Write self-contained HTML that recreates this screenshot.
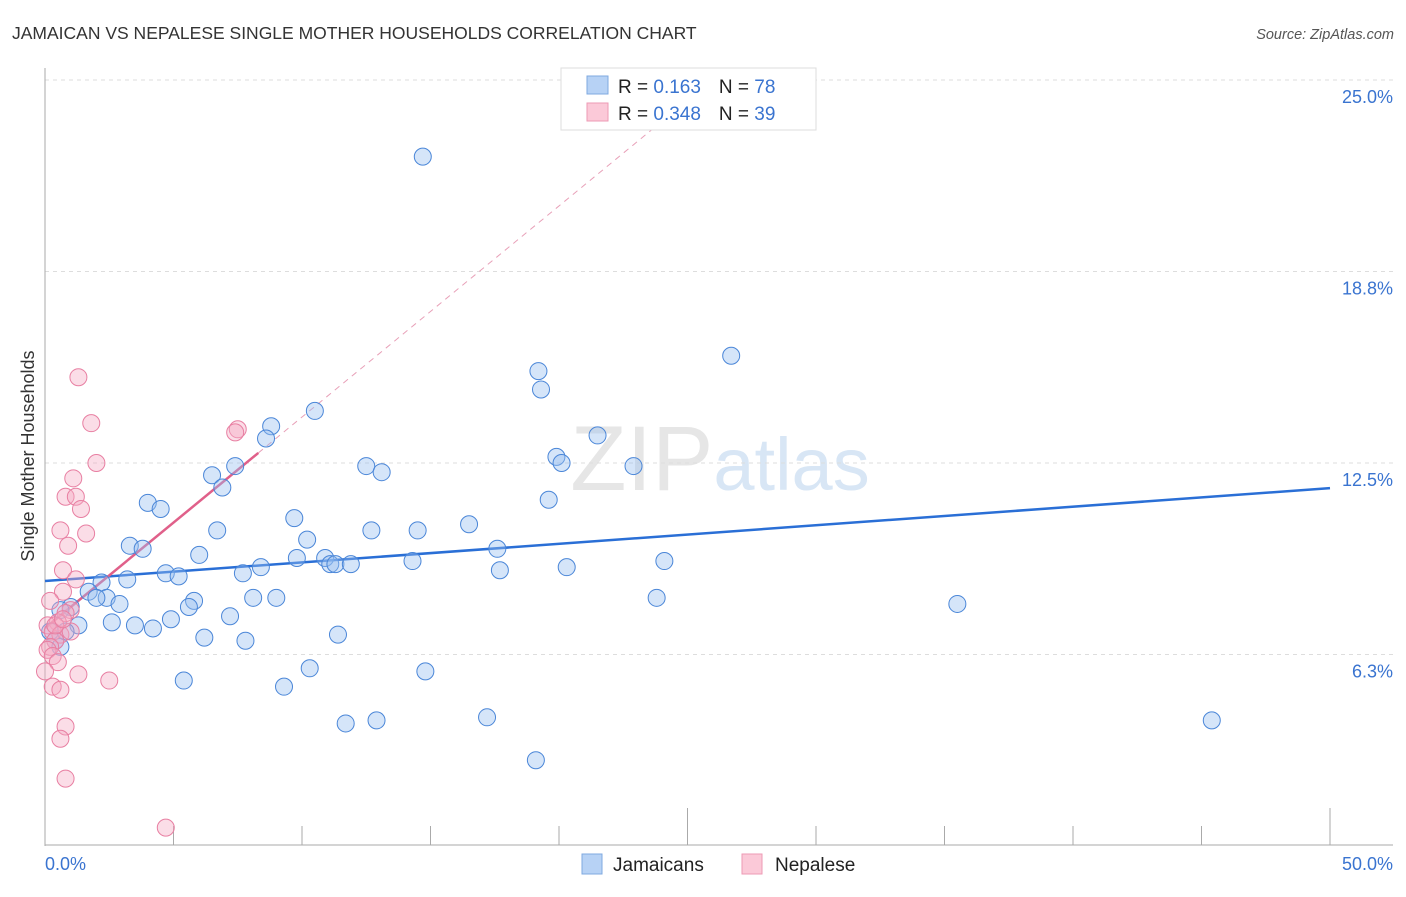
<!DOCTYPE html>
<html><head><meta charset="utf-8"><style>
body{margin:0;background:#fff;font-family:"Liberation Sans",sans-serif;}
svg text{font-family:"Liberation Sans",sans-serif;}
</style></head><body>
<svg id="chart" width="1406" height="892" xmlns="http://www.w3.org/2000/svg">
<text x="12" y="39" font-size="17.5" fill="#333">JAMAICAN VS NEPALESE SINGLE MOTHER HOUSEHOLDS CORRELATION CHART</text>
<text x="1394" y="39" font-size="14.5" fill="#555" font-style="italic" text-anchor="end">Source: ZipAtlas.com</text>
<text x="720" y="490" font-size="92" fill="#e6e6e6" text-anchor="middle" font-family="Liberation Serif"><tspan>ZIP</tspan><tspan fill="#d8e6f5" font-family="Liberation Sans" font-size="74">atlas</tspan></text>
<text transform="translate(34,456) rotate(-90)" font-size="18" fill="#333" text-anchor="middle">Single Mother Households</text>
<g id="grid"></g><g id="axes"></g><g id="trend"></g><g id="pts"></g>
<g>
<rect x="561" y="68" width="255" height="62" fill="#fff" stroke="#ddd"/>
<rect x="587" y="76" width="21" height="18" fill="#b7d2f5" stroke="#7fa9e0"/>
<rect x="587" y="103" width="21" height="18" fill="#fbc9d8" stroke="#ee9ab4"/>
<text x="618" y="93" font-size="19" fill="#222">R = <tspan fill="#3a74d0"> 0.163</tspan><tspan dx="18">N = </tspan><tspan fill="#3a74d0">78</tspan></text>
<text x="618" y="120" font-size="19" fill="#222">R = <tspan fill="#3a74d0">0.348</tspan><tspan dx="18">N = </tspan><tspan fill="#3a74d0">39</tspan></text>
</g>
<g>
<rect x="582" y="854" width="20" height="20" fill="#b7d2f5" stroke="#7fa9e0"/>
<text x="613" y="871" font-size="19" fill="#222">Jamaicans</text>
<rect x="742" y="854" width="20" height="20" fill="#fbc9d8" stroke="#ee9ab4"/>
<text x="775" y="871" font-size="19" fill="#222">Nepalese</text>
</g>
</svg>
<script>
const yTicks=[25,18.75,12.5,6.25];
const yTickLabels=["25.0%","18.8%","12.5%","6.3%"];
const xTickLabels=["0.0%","50.0%"];
const blueX=[14.7,26.7,19.2,19.3,10.5,8.8,8.6,21.5,7.4,12.5,13.1,19.9,20.1,22.9,6.5,6.9,4.0,4.5,19.6,9.7,6.7,12.7,14.5,16.5,10.2,3.3,3.8,17.6,6.0,9.8,10.9,11.1,11.3,11.9,14.3,17.7,20.3,24.1,8.4,4.7,7.7,5.2,3.2,2.2,1.7,2.4,2.0,2.9,5.8,5.6,8.1,9.0,23.8,35.5,1.0,0.6,1.3,2.6,3.5,4.2,4.9,7.2,6.2,7.8,11.4,5.4,9.3,10.3,14.8,11.7,12.9,17.2,19.1,45.4,0.4,0.2,0.6,0.8];
const blueY=[22.5,16.0,15.5,14.9,14.2,13.7,13.3,13.4,12.4,12.4,12.2,12.7,12.5,12.4,12.1,11.7,11.2,11.0,11.3,10.7,10.3,10.3,10.3,10.5,10.0,9.8,9.7,9.7,9.5,9.4,9.4,9.2,9.2,9.2,9.3,9.0,9.1,9.3,9.1,8.9,8.9,8.8,8.7,8.6,8.3,8.1,8.1,7.9,8.0,7.8,8.1,8.1,8.1,7.9,7.8,7.7,7.2,7.3,7.2,7.1,7.4,7.5,6.8,6.7,6.9,5.4,5.2,5.8,5.7,4.0,4.1,4.2,2.8,4.1,6.7,7.0,6.5,7.0];
const pinkX=[1.3,1.8,2.0,1.1,0.8,1.2,1.4,0.6,1.6,0.9,0.7,1.2,7.5,7.4,0.7,0.2,1.0,0.8,0.5,0.1,0.3,0.6,0.4,0.2,0.1,0.3,0.5,0.0,1.3,2.5,0.3,0.6,0.8,0.6,0.8,4.7,1.0,0.4,0.7];
const pinkY=[15.3,13.8,12.5,12.0,11.4,11.4,11.0,10.3,10.2,9.8,9.0,8.7,13.6,13.5,8.3,8.0,7.7,7.6,7.3,7.2,7.0,6.9,6.7,6.5,6.4,6.2,6.0,5.7,5.6,5.4,5.2,5.1,3.9,3.5,2.2,0.6,7.0,7.2,7.4];
const blueTrend=[8.65,11.68];
const pinkTrend=[7.11,0.689];
const NS="http://www.w3.org/2000/svg";
const X=v=>45+v*25.7, Y=v=>846-v*30.64;
function mk(t,a,p){const e=document.createElementNS(NS,t);for(const k in a)e.setAttribute(k,a[k]);p.appendChild(e);return e;}
const grid=document.getElementById('grid'),axes=document.getElementById('axes');
yTicks.forEach((v,i)=>{
 const l=mk('line',{x1:45,x2:1393,y1:Y(v),y2:Y(v),stroke:'#ddd','stroke-dasharray':'4,4'},grid);
 
 
 const t=mk('text',{x:1393,y:Y(v)+23,'font-size':18,fill:'#3a74d0','text-anchor':'end'},axes);
 t.textContent=yTickLabels[i];
 
 
});
mk('line',{x1:45,x2:45,y1:68,y2:846,stroke:'#aaa'},axes);
mk('line',{x1:45,x2:1393,y1:845,y2:845,stroke:'#aaa'},axes);
for(let i=0;i<=10;i++){const v=i*5;const long=(i==0||i==5||i==10);
 mk('line',{x1:X(v),x2:X(v),y1:long?808:826,y2:845,stroke:'#aaa'},axes);}
[[0,'start',45],[50,'end',1393]].forEach((d,i)=>{
 const t=mk('text',{x:d[2],y:870,'font-size':18,fill:'#3a74d0','text-anchor':d[1]},axes);
 t.textContent=xTickLabels[i];
 
 
});
const tr=document.getElementById('trend');
const bl=mk('line',{x1:X(0),y1:Y(blueTrend[0]),x2:X(50),y2:Y(blueTrend[1]),stroke:'#2a6fd6','stroke-width':2.5},tr);


const pe=(25-pinkTrend[0])/pinkTrend[1];
const pd=mk('line',{x1:X(8.3),y1:Y(pinkTrend[0]+pinkTrend[1]*8.3),x2:X(pe),y2:Y(25),stroke:'#e8a0b8','stroke-width':1,'stroke-dasharray':'6,5'},tr);


const pl=mk('line',{x1:X(0),y1:Y(pinkTrend[0]),x2:X(8.3),y2:Y(pinkTrend[0]+pinkTrend[1]*8.3),stroke:'#e0608a','stroke-width':2.5},tr);


const pts=document.getElementById('pts');
blueX.forEach((x,i)=>{const c=mk('circle',{cx:X(x),cy:Y(blueY[i]),r:8.5,fill:'rgba(150,190,240,0.4)',stroke:'#4a86d8','stroke-width':1},pts);
 
 });
pinkX.forEach((x,i)=>{const c=mk('circle',{cx:X(x),cy:Y(pinkY[i]),r:8.5,fill:'rgba(245,170,195,0.4)',stroke:'#e87fa2','stroke-width':1},pts);
 
 });
</script>
</body></html>
